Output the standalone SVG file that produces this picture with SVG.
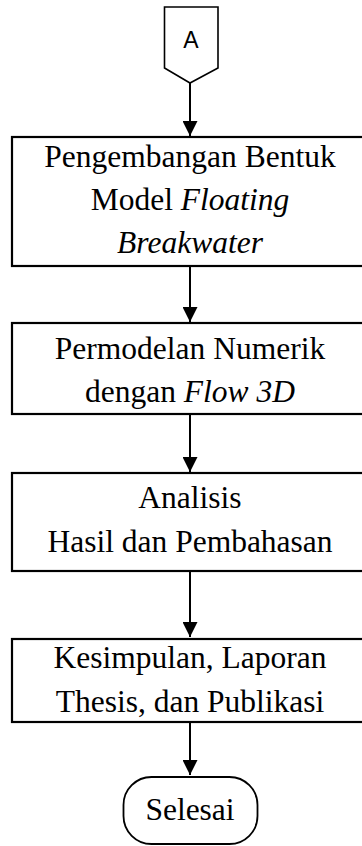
<svg xmlns="http://www.w3.org/2000/svg" width="362" height="846" viewBox="0 0 362 846">
<defs>
<marker id="ah" viewBox="0 0 10 10" refX="10" refY="5" markerWidth="15" markerHeight="15" markerUnits="userSpaceOnUse" orient="auto">
<path d="M0,0 L10,5 L0,10 z" fill="#000"/>
</marker>
<style>
.box{fill:#fff;stroke:#000;stroke-width:2.2}
.t{font-family:"Liberation Serif","Times New Roman",serif;font-size:31.5px;fill:#000;text-anchor:middle}
.i{font-style:italic}
.c{stroke:#000;stroke-width:2;fill:none;marker-end:url(#ah)}
</style>
</defs>
<rect width="362" height="846" fill="#fff"/>
<g id="connectors">
<line class="c" x1="190" y1="83" x2="190" y2="136"/>
<line class="c" x1="190" y1="266" x2="190" y2="322"/>
<line class="c" x1="190" y1="414" x2="190" y2="472"/>
<line class="c" x1="190" y1="571" x2="190" y2="637"/>
<line class="c" x1="190" y1="722" x2="190" y2="775"/>
</g>
<g id="nodeA">
<path d="M164.5,7 H218 V68 L190,83 L164.5,68 Z" fill="#fff" stroke="#000" stroke-width="1.6"/>
<text x="191" y="48" font-family="Liberation Sans, Arial, sans-serif" font-size="23" text-anchor="middle">A</text>
</g>
<g id="node1">
<rect class="box" x="12" y="137" width="362" height="129"/>
<text class="t" x="190" y="167">Pengembangan Bentuk</text>
<text class="t" x="190" y="210">Model <tspan class="i">Floating</tspan></text>
<text class="t" x="190" y="253"><tspan class="i">Breakwater</tspan></text>
</g>
<g id="node2">
<rect class="box" x="12" y="323" width="362" height="91"/>
<text class="t" x="190" y="359">Permodelan Numerik</text>
<text class="t" x="190" y="402">dengan <tspan class="i">Flow 3D</tspan></text>
</g>
<g id="node3">
<rect class="box" x="12" y="473" width="362" height="98"/>
<text class="t" x="190" y="508">Analisis</text>
<text class="t" x="190" y="552">Hasil dan Pembahasan</text>
</g>
<g id="node4">
<rect class="box" x="12" y="639" width="362" height="83"/>
<text class="t" x="190" y="668">Kesimpulan, Laporan</text>
<text class="t" x="190" y="712">Thesis, dan Publikasi</text>
</g>
<g id="end">
<rect x="123.5" y="777" width="134" height="67" rx="28" ry="28" fill="#fff" stroke="#000" stroke-width="1.8"/>
<text class="t" x="190" y="820">Selesai</text>
</g>
</svg>
